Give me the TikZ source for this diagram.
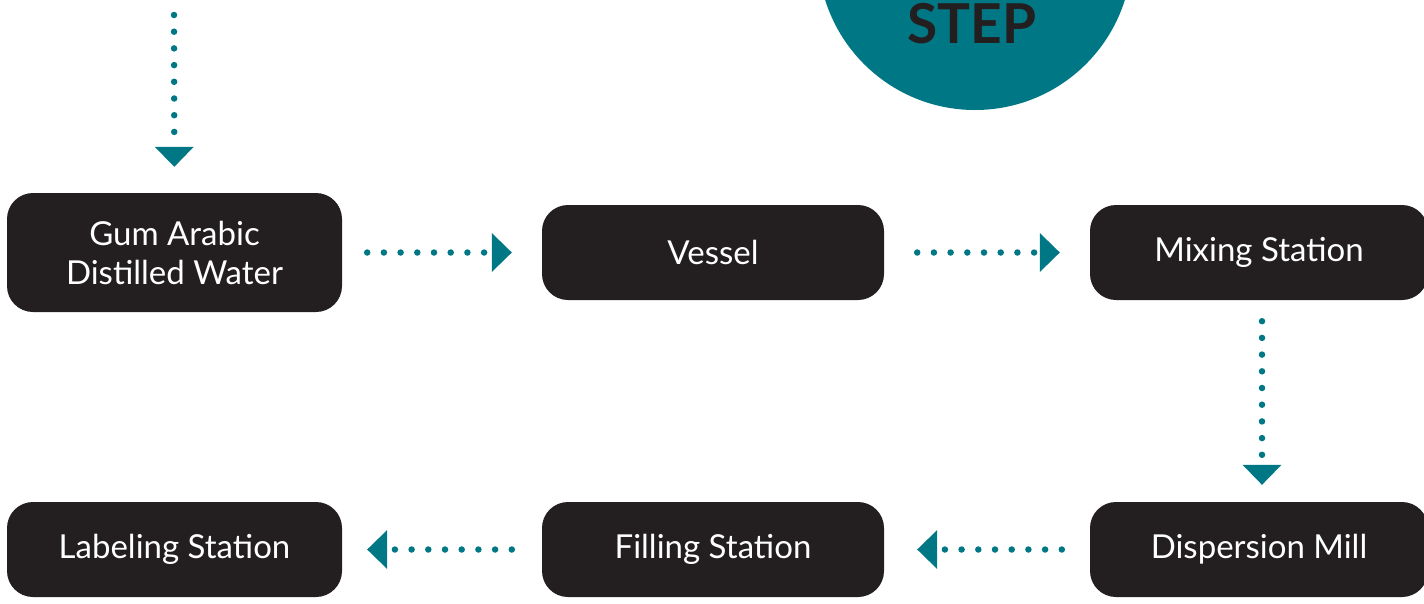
\documentclass[tikz,border=0pt]{standalone}
\usepackage{fontspec}
\setmainfont{Lato}
\usepackage{xcolor}
\usetikzlibrary{arrows.meta}

\definecolor{boxblack}{HTML}{231F20}
\definecolor{stepteal}{HTML}{007785}

\begin{document}
\begin{tikzpicture}[
    x=1pt, y=-1pt,
    box/.style={rectangle, rounded corners=26pt, fill=boxblack, text=white,
        minimum height=95pt, align=center, font=\fontsize{33}{39}\selectfont},
    flow/.style={stepteal, line width=6.5pt, line cap=round,
        dash pattern=on 0pt off 16.7pt,
        -{Triangle[length=20pt, width=39pt, line width=0pt]}}
]
    \useasboundingbox (0,0) rectangle (1424,603);

    \fill[stepteal] (975,-47) circle (157);
    \node[text=boxblack, font=\fontsize{55}{55}\bfseries\selectfont, anchor=base] (step) at (972,43) {STEP};

    \coordinate (src) at (174,15);
    \node[box, minimum width=335pt, minimum height=119pt] (gum) at (174.5,252.5) {Gum Arabic\\Distilled Water};
    \node[box, minimum width=342pt] (vessel) at (713,252.5) {Vessel};
    \node[box, minimum width=338pt] (mix) at (1259,252.5) {Mixing Station};
    \node[box, minimum width=338pt] (mill) at (1259,549.5) {Dispersion Mill};
    \node[box, minimum width=342pt] (fill) at (713,549.5) {Filling Station};
    \node[box, minimum width=335pt] (label) at (174.5,549.5) {Labeling Station};

    \draw[flow, shorten >=26pt] (src) -- (gum);
    \draw[flow, shorten <=25pt, shorten >=30pt] (gum) -- (vessel);
    \draw[flow, shorten <=33pt, shorten >=30pt] (vessel) -- (mix.west);
    \draw[flow, shorten <=21pt, shorten >=17pt] (mix.south -| 1262,0) -- (mill.north -| 1262,0);
    \draw[flow, shorten <=28pt, shorten >=33pt] (mill.west) -- (fill);
    \draw[flow, shorten <=30pt, shorten >=25pt] (fill) -- (label);
\end{tikzpicture}
\end{document}
